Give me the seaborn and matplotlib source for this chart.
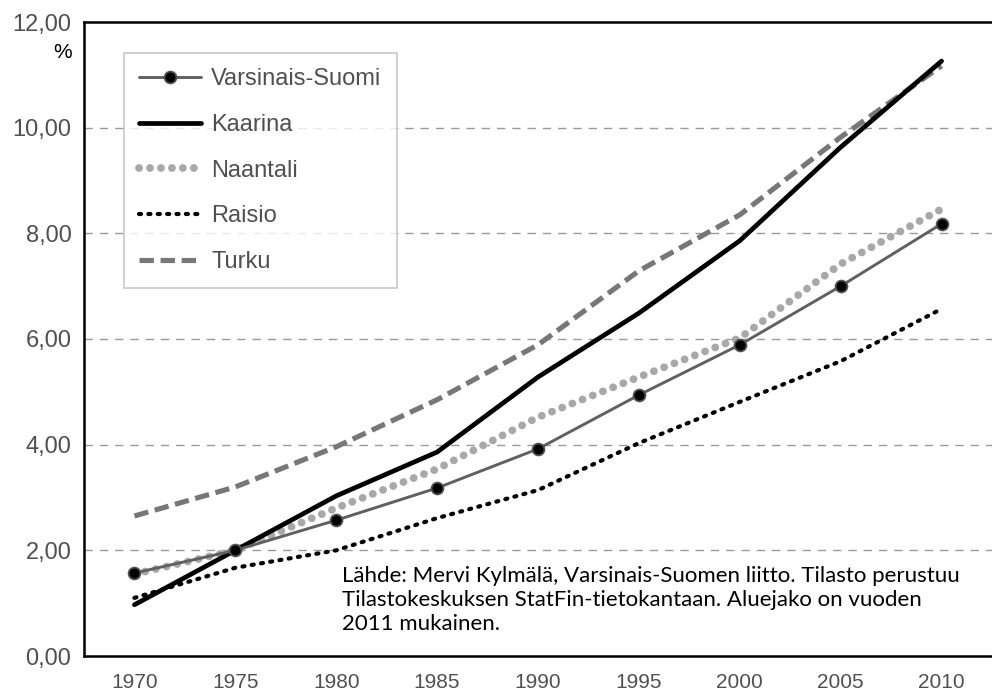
import matplotlib
matplotlib.use("Agg")
import matplotlib.pyplot as plt
import seaborn as sns
import numpy as np
from matplotlib.ticker import FixedLocator, FuncFormatter

years = [1970, 1975, 1980, 1985, 1990, 1995, 2000, 2005, 2010]
varsinais_suomi = [1.57, 2.00, 2.57, 3.18, 3.92, 4.94, 5.89, 7.00, 8.18]
kaarina = [0.97, 2.00, 3.03, 3.86, 5.28, 6.49, 7.86, 9.63, 11.26]
naantali = [1.55, 2.00, 2.80, 3.54, 4.52, 5.28, 6.02, 7.42, 8.46]
raisio = [1.10, 1.67, 2.00, 2.61, 3.14, 4.03, 4.81, 5.58, 6.57]
turku = [2.65, 3.20, 3.96, 4.85, 5.89, 7.29, 8.35, 9.82, 11.17]
y_ticks = [0, 2, 4, 6, 8, 10, 12]
source_text = ("Lähde: Mervi Kylmälä, Varsinais-Suomen liitto. Tilasto perustuu\n"
               "Tilastokeskuksen StatFin-tietokantaan. Aluejako on vuoden\n"
               "2011 mukainen.")

sns.set_style("white")
plt.rcParams['font.family'] = ['Liberation Sans', 'DejaVu Sans']

fig = plt.figure(figsize=(9.92, 6.93), dpi=100)
ax = fig.add_axes([84/992, 37/693, 1 - 84/992, (656-22)/693])

pos = np.arange(len(years))
tc = '#505050'

sns.lineplot(x=pos, y=turku, ax=ax, color='#777777', lw=3.7, label='Turku', zorder=2)
ax.lines[-1].set_dashes((2.8, 1.3))
sns.lineplot(x=pos, y=naantali, ax=ax, color='#a8a8a8', lw=5.6, label='Naantali', zorder=3)
ax.lines[-1].set_dashes((0.01, 1.4))
ax.lines[-1].set_dash_capstyle('round')
sns.lineplot(x=pos, y=raisio, ax=ax, color='black', lw=3.0, label='Raisio', zorder=3)
ax.lines[-1].set_dashes((0.5, 1.75))
ax.lines[-1].set_dash_capstyle('round')
sns.lineplot(x=pos, y=kaarina, ax=ax, color='black', lw=3.4, label='Kaarina', zorder=4)
sns.lineplot(x=pos, y=varsinais_suomi, ax=ax, color='#606060', lw=2.1, marker='o',
             markersize=8.5, markerfacecolor='black', markeredgecolor='#505050',
             markeredgewidth=1.3, label='Varsinais-Suomi', zorder=5)

ax.set_xlim(-0.5, len(years) - 0.5)
ax.set_ylim(0, 12)
ax.xaxis.set_major_locator(FixedLocator(pos))
ax.set_xticklabels([str(y) for y in years], color=tc, fontsize=15)
ax.xaxis.set_minor_locator(FixedLocator(np.arange(len(years) + 1) - 0.5))
ax.tick_params(axis='x', which='major', length=0, pad=12)
ax.tick_params(axis='x', which='minor', length=7, width=1.5, color='black', direction='out')
ax.set_yticks(y_ticks)
ax.yaxis.set_major_formatter(FuncFormatter(lambda v, p: f"{v:.2f}".replace('.', ',')))
ax.tick_params(axis='y', length=6, width=1.5, color='black', direction='out',
               labelsize=17, labelcolor=tc, pad=3)
ax.set_xlabel('')
ax.set_ylabel('')

for y in y_ticks[1:-1]:
    ax.axhline(y, color='#9a9a9a', lw=1, ls=(0, (6, 5)), zorder=1)

for s in ['left', 'bottom', 'top']:
    ax.spines[s].set_visible(True)
    ax.spines[s].set_color('black')
    ax.spines[s].set_linewidth(1.8)
ax.spines['right'].set_visible(False)

handles, labels = ax.get_legend_handles_labels()
order = ['Varsinais-Suomi', 'Kaarina', 'Naantali', 'Raisio', 'Turku']
hmap = dict(zip(labels, handles))
leg = ax.legend([hmap[k] for k in order], order, loc='upper left',
                bbox_to_anchor=(40/908, (634-31)/634), fontsize=17,
                handlelength=2.6, labelspacing=1.0, handletextpad=0.45,
                borderpad=0.65, fancybox=False, frameon=True, borderaxespad=0)
leg.get_frame().set_edgecolor('#bbbbbb')
leg.get_frame().set_linewidth(1.2)
for t in leg.get_texts():
    t.set_color(tc)

fig.text(63/992, 1 - 52/693, '%', ha='center', va='center', fontsize=15, color='black')
fig.text(342/992, 1 - 566/693, source_text, ha='left', va='top', fontsize=16,
         family=['Lato', 'DejaVu Sans'], color='black', linespacing=1.25)

fig.savefig('out.png', dpi=100)
